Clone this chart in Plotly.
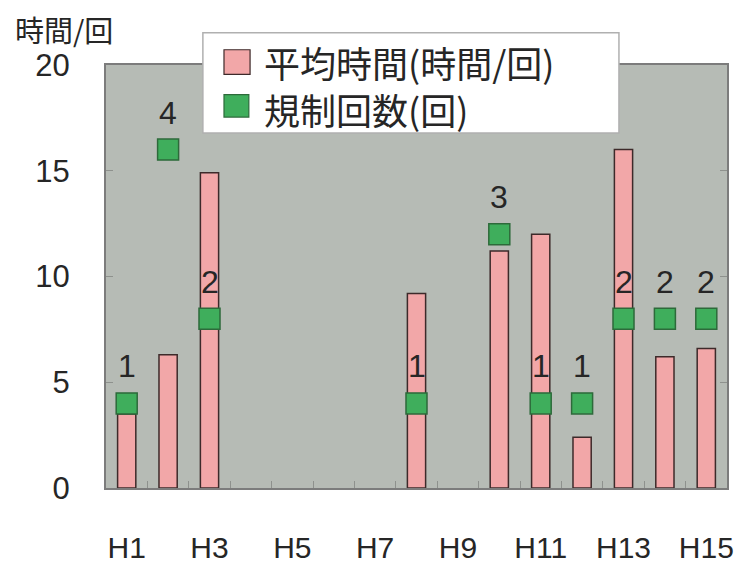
import plotly.graph_objects as go

categories = ["H1", "H2", "H3", "H4", "H5", "H6", "H7", "H8", "H9", "H10", "H11", "H12", "H13", "H14", "H15"]
avg_hours = [3.5, 6.3, 14.9, None, None, None, None, 9.2, None, 11.2, 12.0, 2.4, 16.0, 6.2, 6.6]
reg_counts = [1, 4, 2, None, None, None, None, 1, None, 3, 1, 1, 2, 2, 2]
tick_text = ["H1", "", "H3", "", "H5", "", "H7", "", "H9", "", "H11", "", "H13", "", "H15"]
y_ticks = [0, 5, 10, 15, 20]

legend_bar = "平均時間(時間/回)"
legend_sq = "規制回数(回)"
y_unit = "時間/回"

NUM_FONT = "Liberation Sans, Arial, sans-serif"
CJK_FONT = "Noto Sans CJK JP, sans-serif"
TXT = "#262626"
PINK = "#f2a7a8"
GREEN = "#3fae5c"
BG = "#b6bbb5"

fig = go.Figure()
fig.add_trace(go.Bar(
    x=categories, y=avg_hours, name=legend_bar,
    marker=dict(color=PINK, line=dict(color="#3d2a2a", width=1.5)),
    showlegend=False,
))
fig.add_trace(go.Scatter(
    x=categories, y=reg_counts, name=legend_sq, yaxis="y2",
    mode="markers",
    marker=dict(symbol="square", size=21, color=GREEN, line=dict(color="#2d6a3a", width=1.5)),
    showlegend=False,
))

annotations = []
for c, n in zip(categories, reg_counts):
    if n is None:
        continue
    annotations.append(dict(x=c, y=n, xref="x", yref="y2", text=str(n), showarrow=False,
                            yshift=37, font=dict(family=NUM_FONT, size=32, color=TXT)))

# axis unit label
annotations.append(dict(x=-0.150, y=1.085, xref="paper", yref="paper", text=y_unit,
                        xanchor="left", yanchor="middle", showarrow=False,
                        font=dict(family=CJK_FONT, size=29, color=TXT)))

# manual legend
lx0, lx1 = 0.156, 0.826
ly0, ly1 = 0.839, 1.076
shapes = [
    dict(type="rect", xref="paper", yref="paper", x0=lx0, x1=lx1, y0=ly0, y1=ly1,
         fillcolor="white", line=dict(color="#b0b0b0", width=1.5), layer="above"),
    dict(type="rect", xref="paper", yref="paper", x0=0.190, x1=0.232, y0=0.978, y1=1.036,
         fillcolor=PINK, line=dict(color="#3d2a2a", width=1.2), layer="above"),
    dict(type="rect", xref="paper", yref="paper", x0=0.190, x1=0.230, y0=0.877, y1=0.930,
         fillcolor=GREEN, line=dict(color="#2d6a3a", width=1.2), layer="above"),
]
annotations.append(dict(x=0.252, y=1.008, xref="paper", yref="paper", text=legend_bar,
                        xanchor="left", yanchor="middle", showarrow=False,
                        font=dict(family=CJK_FONT, size=36, color=TXT)))
annotations.append(dict(x=0.252, y=0.897, xref="paper", yref="paper", text=legend_sq,
                        xanchor="left", yanchor="middle", showarrow=False,
                        font=dict(family=CJK_FONT, size=36, color=TXT)))

fig.update_layout(
    width=734, height=565,
    margin=dict(l=106, r=7, t=65, b=77),
    paper_bgcolor="white",
    plot_bgcolor=BG,
    bargap=0.56,
    showlegend=False,
    xaxis=dict(
        type="category", tickmode="array", tickvals=categories, ticktext=tick_text,
        tickson="boundaries", ticks="inside", ticklen=7, tickcolor="#8e918d", tickwidth=1,
        showline=True, linecolor="#7c7c7c", linewidth=2, mirror=True,
        showgrid=False, ticklabelstandoff=32, tickangle=0, automargin=False,
        tickfont=dict(family=NUM_FONT, size=30, color=TXT),
        range=[-0.5, 14.5],
    ),
    yaxis=dict(
        range=[0, 20], tickvals=y_ticks, ticks="inside", ticklen=7, tickcolor="#8e918d",
        showline=True, linecolor="#7c7c7c", linewidth=2, mirror="ticks",
        showgrid=False, zeroline=False, ticklabelstandoff=28, automargin=False,
        tickfont=dict(family=NUM_FONT, size=31, color=TXT),
    ),
    yaxis2=dict(range=[0, 5], overlaying="y", side="right", visible=False),
    shapes=shapes,
    annotations=annotations,
)

fig.write_html("out.html")
